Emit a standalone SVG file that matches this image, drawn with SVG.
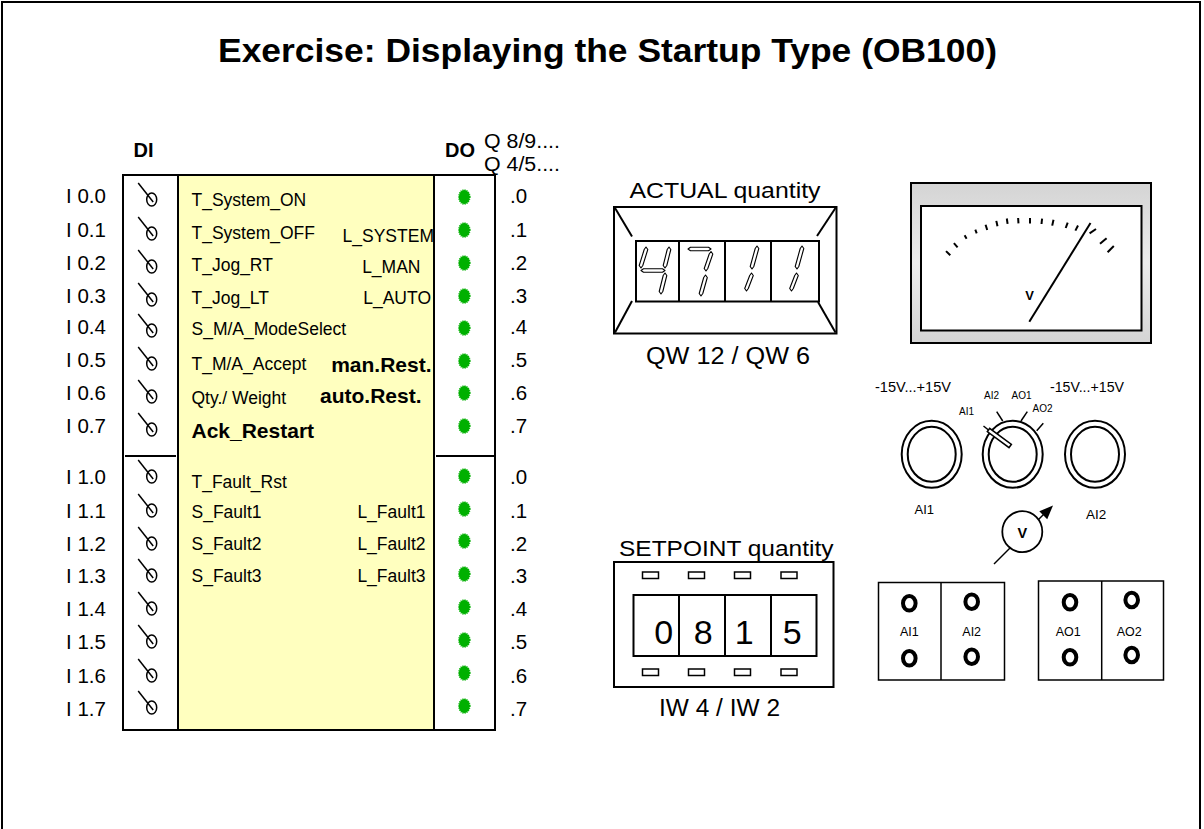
<svg xmlns="http://www.w3.org/2000/svg" width="1204" height="829" viewBox="0 0 1204 829">
  <style>
    .t { font-family: "Liberation Sans", Arial, Helvetica, sans-serif; fill: #000; }
    .b { font-weight: bold; }
    .io { font-size: 20.5px; }
    .lbl { font-size: 17.5px; }
    .big { font-size: 21px; font-weight: bold; }
    .ln { fill: none; stroke: #000; stroke-width: 2; }
    .thin { fill: none; stroke: #000; stroke-width: 1.5; }
    .seg { fill: #fff; stroke: #000; stroke-width: 1.1; stroke-linejoin: round; }
    .led { fill: #00B000; stroke: #00B000; stroke-width: 1.6; stroke-dasharray: 1 1.1; }
    .sw { fill: none; stroke: #000; stroke-width: 1.5; }
    .tick { stroke: #000; stroke-width: 2; stroke-linecap: butt; }
    .jack { fill: none; stroke: #000; stroke-width: 4; }
    .small { font-size: 10px; }
  </style>
  <defs>
    <!-- toggle switch: lever + contact -->
    <g id="switch" class="sw">
      <line x1="-13.5" y1="-16.5" x2="1.5" y2="2.5"/>
      <ellipse cx="0" cy="0" rx="5" ry="6.5"/>
    </g>
    <!-- status lamp -->
    <ellipse id="led" class="led" rx="5.5" ry="7"/>
    <linearGradient id="meterBody" x1="0" y1="0" x2="0" y2="1">
      <stop offset="0" stop-color="#d4d4d4"/>
      <stop offset="0.5" stop-color="#ececec"/>
      <stop offset="1" stop-color="#d4d4d4"/>
    </linearGradient>
  </defs>

  <!-- page frame -->
  <rect x="2" y="2" width="1198" height="850" fill="#fff" stroke="#000" stroke-width="2"/>

  <g id="title">
    <text class="t b" x="218" y="62" font-size="33" textLength="779" lengthAdjust="spacingAndGlyphs">Exercise: Displaying the Startup Type (OB100)</text>
  </g>

  <!-- digital I/O simulator panel -->
  <g id="io-panel">
    <rect x="178" y="175" width="256" height="555" fill="#FFFFBF"/>
    <rect x="123" y="175" width="372" height="555" class="ln"/>
    <line x1="178" y1="175" x2="178" y2="730" class="ln"/>
    <line x1="434" y1="175" x2="434" y2="730" class="ln"/>
    <line x1="125" y1="456" x2="176" y2="456" class="ln"/>
    <line x1="436" y1="456" x2="494" y2="456" class="ln"/>

    <text class="t b" x="133.5" y="157" font-size="20">DI</text>
    <text class="t b" x="445" y="157" font-size="20">DO</text>
    <text class="t" x="484" y="147.5" font-size="20" textLength="76" lengthAdjust="spacingAndGlyphs">Q 8/9....</text>
    <text class="t" x="484" y="171" font-size="20" textLength="76" lengthAdjust="spacingAndGlyphs">Q 4/5....</text>

    <!-- input addresses -->
    <g class="t io">
      <text x="66" y="203">I 0.0</text>
      <text x="66" y="237">I 0.1</text>
      <text x="66" y="270">I 0.2</text>
      <text x="66" y="303">I 0.3</text>
      <text x="66" y="334">I 0.4</text>
      <text x="66" y="367">I 0.5</text>
      <text x="66" y="400">I 0.6</text>
      <text x="66" y="433">I 0.7</text>
      <text x="66" y="484">I 1.0</text>
      <text x="66" y="518">I 1.1</text>
      <text x="66" y="551">I 1.2</text>
      <text x="66" y="583">I 1.3</text>
      <text x="66" y="616">I 1.4</text>
      <text x="66" y="649">I 1.5</text>
      <text x="66" y="683">I 1.6</text>
      <text x="66" y="716">I 1.7</text>
    </g>

    <!-- output bit numbers -->
    <g class="t io">
      <text x="510" y="203">.0</text>
      <text x="510" y="237">.1</text>
      <text x="510" y="270">.2</text>
      <text x="510" y="303">.3</text>
      <text x="510" y="334">.4</text>
      <text x="510" y="367">.5</text>
      <text x="510" y="400">.6</text>
      <text x="510" y="433">.7</text>
      <text x="510" y="484">.0</text>
      <text x="510" y="518">.1</text>
      <text x="510" y="551">.2</text>
      <text x="510" y="583">.3</text>
      <text x="510" y="616">.4</text>
      <text x="510" y="649">.5</text>
      <text x="510" y="683">.6</text>
      <text x="510" y="716">.7</text>
    </g>

    <!-- switches -->
    <use href="#switch" x="151.7" y="199.5"/>
    <use href="#switch" x="151.7" y="233.5"/>
    <use href="#switch" x="151.7" y="266.5"/>
    <use href="#switch" x="151.7" y="299.5"/>
    <use href="#switch" x="151.7" y="330.5"/>
    <use href="#switch" x="151.7" y="363.5"/>
    <use href="#switch" x="151.7" y="396.5"/>
    <use href="#switch" x="151.7" y="429.5"/>
    <use href="#switch" x="151.7" y="476.5"/>
    <use href="#switch" x="151.7" y="510.5"/>
    <use href="#switch" x="151.7" y="543.5"/>
    <use href="#switch" x="151.7" y="575.5"/>
    <use href="#switch" x="151.7" y="608.5"/>
    <use href="#switch" x="151.7" y="641.5"/>
    <use href="#switch" x="151.7" y="675.5"/>
    <use href="#switch" x="151.7" y="707.5"/>

    <!-- lamps -->
    <use href="#led" x="464.3" y="197"/>
    <use href="#led" x="464.3" y="230"/>
    <use href="#led" x="464.3" y="263"/>
    <use href="#led" x="464.3" y="296"/>
    <use href="#led" x="464.3" y="328"/>
    <use href="#led" x="464.3" y="361"/>
    <use href="#led" x="464.3" y="393"/>
    <use href="#led" x="464.3" y="426"/>
    <use href="#led" x="464.3" y="476"/>
    <use href="#led" x="464.3" y="509"/>
    <use href="#led" x="464.3" y="541"/>
    <use href="#led" x="464.3" y="574"/>
    <use href="#led" x="464.3" y="607"/>
    <use href="#led" x="464.3" y="640"/>
    <use href="#led" x="464.3" y="673"/>
    <use href="#led" x="464.3" y="706"/>

    <!-- symbol names -->
    <g class="t lbl">
      <text x="191.5" y="206">T_System_ON</text>
      <text x="191.5" y="238.5">T_System_OFF</text>
      <text x="191.5" y="271">T_Jog_RT</text>
      <text x="191.5" y="303.5">T_Jog_LT</text>
      <text x="191.5" y="335">S_M/A_ModeSelect</text>
      <text x="191.5" y="370">T_M/A_Accept</text>
      <text x="191.5" y="403.5">Qty./ Weight</text>
      <text x="191.5" y="488">T_Fault_Rst</text>
      <text x="191.5" y="518">S_Fault1</text>
      <text x="191.5" y="550">S_Fault2</text>
      <text x="191.5" y="582">S_Fault3</text>
      <text x="434" y="241.5" text-anchor="end">L_SYSTEM</text>
      <text x="420.5" y="272.5" text-anchor="end">L_MAN</text>
      <text x="431" y="304" text-anchor="end">L_AUTO</text>
      <text x="425.5" y="518" text-anchor="end">L_Fault1</text>
      <text x="425.5" y="550" text-anchor="end">L_Fault2</text>
      <text x="425.5" y="582" text-anchor="end">L_Fault3</text>
    </g>
    <text class="t big" x="191.5" y="437.5">Ack_Restart</text>
    <text class="t big" x="431.5" y="371.5" text-anchor="end">man.Rest.</text>
    <text class="t big" x="421.5" y="403" text-anchor="end">auto.Rest.</text>
  </g>

  <!-- actual value display (7-segment) -->
  <g id="actual-display">
    <text class="t" x="629.5" y="198" font-size="22.5" textLength="191" lengthAdjust="spacingAndGlyphs">ACTUAL quantity</text>
    <rect x="614" y="207" width="222.5" height="126.5" class="ln"/>
    <rect x="636" y="241" width="183" height="60.5" class="ln"/>
    <line x1="679" y1="241" x2="679" y2="301.5" class="ln"/>
    <line x1="725" y1="241" x2="725" y2="301.5" class="ln"/>
    <line x1="771" y1="241" x2="771" y2="301.5" class="ln"/>
    <line x1="615" y1="208" x2="632" y2="236.5" class="ln"/>
    <line x1="835.5" y1="208" x2="817" y2="236" class="ln"/>
    <line x1="632" y1="301" x2="615" y2="332.5" class="ln"/>
    <line x1="818" y1="302" x2="835.5" y2="332.5" class="ln"/>
    <!-- digit 4 -->
    <polygon class="seg" points="646,247 647.8,249.5 642.8,265.5 641,268 639.2,265.5 644.2,249.5"/>
    <polygon class="seg" points="669,247 670.8,249.5 666.8,265.5 665,268 663.2,265.5 667.2,249.5"/>
    <polygon class="seg" points="641,270.5 643.5,268.7 662.5,268.7 665,270.5 662.5,272.3 643.5,272.3"/>
    <polygon class="seg" points="665,273 666.8,275.5 662.8,291.5 661,294 659.2,291.5 663.2,275.5"/>
    <!-- digit 7 -->
    <polygon class="seg" points="688,249 690.5,247.2 708.5,247.2 711,249 708.5,250.8 690.5,250.8"/>
    <polygon class="seg" points="711,251.5 712.8,254 707.8,268.5 706,271 704.2,268.5 709.2,254"/>
    <polygon class="seg" points="705.5,275 707.3,277.5 702.8,293.5 701,296 699.2,293.5 703.7,277.5"/>
    <!-- digit 1 -->
    <polygon class="seg" points="757,246 758.8,248.5 753.8,266.5 752,269 750.2,266.5 755.2,248.5"/>
    <polygon class="seg" points="751.5,273 753.3,275.5 748.3,288.5 746.5,291 744.7,288.5 749.7,275.5"/>
    <!-- digit 1 -->
    <polygon class="seg" points="802,246 803.8,248.5 798.8,266.5 797,269 795.2,266.5 800.2,248.5"/>
    <polygon class="seg" points="796.5,273 798.3,275.5 793.3,288.5 791.5,291 789.7,288.5 794.7,275.5"/>
    <text class="t" x="646" y="363.5" font-size="23" textLength="164" lengthAdjust="spacingAndGlyphs">QW 12 / QW 6</text>
  </g>

  <!-- setpoint thumbwheel input -->
  <g id="setpoint-display">
    <text class="t" x="619" y="555.5" font-size="22.5" textLength="214.5" lengthAdjust="spacingAndGlyphs">SETPOINT quantity</text>
    <rect x="614" y="562" width="219.5" height="125" class="ln"/>
    <g class="thin">
      <rect x="642.5" y="572" width="16" height="6.5"/>
      <rect x="688.5" y="572" width="16" height="6.5"/>
      <rect x="734.5" y="572" width="16" height="6.5"/>
      <rect x="781" y="572" width="16" height="6.5"/>
      <rect x="642.5" y="669" width="16" height="6.5"/>
      <rect x="688.5" y="669" width="16" height="6.5"/>
      <rect x="734.5" y="669" width="16" height="6.5"/>
      <rect x="781" y="669" width="16" height="6.5"/>
    </g>
    <rect x="633.5" y="595" width="183" height="61" class="ln"/>
    <line x1="679" y1="595" x2="679" y2="656" class="ln"/>
    <line x1="725" y1="595" x2="725" y2="656" class="ln"/>
    <line x1="771" y1="595" x2="771" y2="656" class="ln"/>
    <g class="t" font-size="34" text-anchor="middle">
      <text x="663.8" y="643.5">0</text>
      <text x="703.3" y="643.5">8</text>
      <text x="744.3" y="643.5">1</text>
      <text x="792.2" y="643.5">5</text>
    </g>
    <text class="t" x="659" y="715.5" font-size="23" textLength="121" lengthAdjust="spacingAndGlyphs">IW 4 / IW 2</text>
  </g>

  <!-- analog voltmeter -->
  <g id="meter">
    <rect x="911" y="183" width="240" height="160" fill="url(#meterBody)" stroke="#000" stroke-width="2"/>
    <rect x="921" y="206" width="220.5" height="124.5" fill="#fff" stroke="#000" stroke-width="2"/>
    <g class="tick">
      <line x1="946.0" y1="251.1" x2="950.3" y2="255.3"/>
      <line x1="953.9" y1="243.1" x2="957.6" y2="247.4"/>
      <line x1="964.6" y1="235.3" x2="966.6" y2="238.8"/>
      <line x1="975.3" y1="229.6" x2="976.7" y2="233.4"/>
      <line x1="985.6" y1="224.8" x2="987.2" y2="230.0"/>
      <line x1="996.3" y1="220.9" x2="997.5" y2="226.2"/>
      <line x1="1006.8" y1="218.5" x2="1007.6" y2="223.8"/>
      <line x1="1018.1" y1="218.0" x2="1018.5" y2="223.4"/>
      <line x1="1030.0" y1="218.0" x2="1030.0" y2="223.4"/>
      <line x1="1042.1" y1="218.6" x2="1041.5" y2="224.0"/>
      <line x1="1053.5" y1="219.8" x2="1052.2" y2="225.6"/>
      <line x1="1067.7" y1="222.6" x2="1065.7" y2="228.0"/>
      <line x1="1078.0" y1="225.5" x2="1075.4" y2="230.6"/>
      <line x1="1089.6" y1="233.4" x2="1096.0" y2="229.0"/>
      <line x1="1100.0" y1="243.8" x2="1106.6" y2="238.2"/>
      <line x1="1107.6" y1="252.2" x2="1113.8" y2="246.0"/>
    </g>
    <line x1="1029.3" y1="321.7" x2="1090.5" y2="223" stroke="#000" stroke-width="2"/>
    <text class="t b" x="1029.5" y="300" font-size="13" text-anchor="middle">V</text>
  </g>

  <!-- potentiometers and selector knob -->
  <g id="knobs">
    <text class="t" x="875" y="392" font-size="14" textLength="76" lengthAdjust="spacingAndGlyphs">-15V...+15V</text>
    <text class="t" x="1050" y="392" font-size="14" textLength="74" lengthAdjust="spacingAndGlyphs">-15V...+15V</text>
    <g class="t small">
      <text x="959" y="415">AI1</text>
      <text x="984" y="398.5">AI2</text>
      <text x="1011.5" y="398.5">AO1</text>
      <text x="1032.5" y="411.5">AO2</text>
    </g>
    <g class="ln">
      <ellipse cx="931.7" cy="454.3" rx="30" ry="33.5"/>
      <ellipse cx="931.7" cy="454.3" rx="24" ry="27.5"/>
      <ellipse cx="1012.7" cy="454.3" rx="30" ry="33.5"/>
      <ellipse cx="1012.7" cy="454.3" rx="24" ry="27.5"/>
      <ellipse cx="1095" cy="454.3" rx="30" ry="33.5"/>
      <ellipse cx="1095" cy="454.3" rx="24" ry="27.5"/>
    </g>
    <g class="thin">
      <line x1="983.5" y1="426" x2="991" y2="432"/>
      <line x1="996.7" y1="411.7" x2="1002.7" y2="421"/>
      <line x1="1027.3" y1="411.7" x2="1021" y2="421"/>
      <line x1="1043.3" y1="423.3" x2="1036.7" y2="430.7"/>
      <rect x="0" y="-2" width="27" height="4" fill="#fff" transform="translate(988.5 430) rotate(36.5)"/>
    </g>
    <text class="t" x="914.5" y="514" font-size="13">AI1</text>
    <text class="t" x="1086" y="518.5" font-size="13.5">AI2</text>
  </g>

  <!-- measuring instrument symbol -->
  <g id="voltmeter">
    <line x1="994" y1="564" x2="1046" y2="512" stroke="#000" stroke-width="1.5"/>
    <polygon points="1053,505.5 1047.2,519.2 1039.3,511.3" fill="#000"/>
    <ellipse cx="1022.3" cy="531.7" rx="20" ry="20.5" fill="#fff" stroke="#000" stroke-width="1.8"/>
    <text class="t b" x="1022.3" y="538" font-size="14.5" text-anchor="middle">V</text>
  </g>

  <!-- socket strips -->
  <g id="sockets-ai">
    <rect x="878.5" y="582.5" width="126" height="97.5" class="thin"/>
    <line x1="941" y1="582.5" x2="941" y2="680" class="thin"/>
    <ellipse cx="909.3" cy="603.3" rx="6.3" ry="7.3" class="jack"/>
    <ellipse cx="909.3" cy="658.3" rx="6.3" ry="7.3" class="jack"/>
    <ellipse cx="971.7" cy="601.7" rx="6.3" ry="7.3" class="jack"/>
    <ellipse cx="971.7" cy="656.7" rx="6.3" ry="7.3" class="jack"/>
    <text class="t" x="909.3" y="636" font-size="12.5" text-anchor="middle">AI1</text>
    <text class="t" x="971.7" y="636" font-size="12.5" text-anchor="middle">AI2</text>
  </g>
  <g id="sockets-ao">
    <rect x="1038.5" y="581" width="125" height="99" class="thin"/>
    <line x1="1101.7" y1="581" x2="1101.7" y2="680" class="thin"/>
    <ellipse cx="1070" cy="602.3" rx="6.3" ry="7.3" class="jack"/>
    <ellipse cx="1070" cy="657.3" rx="6.3" ry="7.3" class="jack"/>
    <ellipse cx="1131.7" cy="600" rx="6.3" ry="7.3" class="jack"/>
    <ellipse cx="1131.7" cy="655" rx="6.3" ry="7.3" class="jack"/>
    <text class="t" x="1068.3" y="636" font-size="12.5" text-anchor="middle">AO1</text>
    <text class="t" x="1129.3" y="636" font-size="12.5" text-anchor="middle">AO2</text>
  </g>

  <!-- no wiring between the panels -->
  <g id="connectors"/>
</svg>
